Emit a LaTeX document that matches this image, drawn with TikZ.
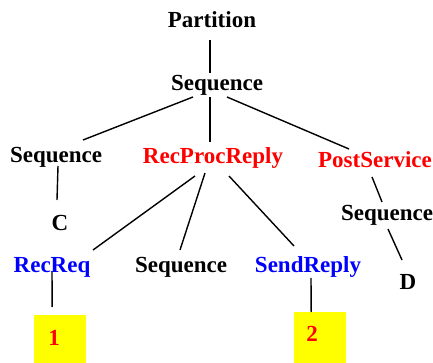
\documentclass[tikz,border=0pt]{standalone}
\usepackage{fontspec}
\setmainfont{Liberation Serif}
\definecolor{tred}{RGB}{255,0,0}
\definecolor{tblue}{RGB}{0,0,255}
\definecolor{tyellow}{RGB}{255,255,0}
\begin{document}
\begin{tikzpicture}[x=1pt,y=-1pt,
  lbl/.style={anchor=base,inner sep=0pt,font=\fontsize{23}{27}\selectfont\bfseries},
  redlbl/.style={lbl,text=tred},
  bluelbl/.style={lbl,text=tblue},
  leaf/.style={fill=tyellow,draw=none,minimum width=52pt,minimum height=51pt,inner sep=0pt,anchor=north west},
  edge/.style={line width=1.4pt}]
\useasboundingbox (0,0) rectangle (433,363);

% tree labels
\node[lbl] (part) at (212,28) {Partition};
\node[lbl] (stop) at (217,91) {Sequence};
\node[lbl] (sl) at (56,163) {Sequence};
\node[redlbl] (rpr) at (213,164) {RecProcReply};
\node[redlbl] (ps) at (375,168) {PostService};
\node[lbl] (c) at (60,230) {C};
\node[lbl] (sr) at (387,220) {Sequence};
\node[bluelbl] (rr) at (52,272) {RecReq};
\node[lbl] (sm) at (181,272) {Sequence};
\node[bluelbl] (snd) at (308,272) {SendReply};
\node[lbl] (d) at (408,289) {D};

% yellow leaves
\node[leaf] (b1) at (34,315) {};
\node[leaf] (b2) at (294,312) {};
\node[redlbl] (n1) at (54,345) {1};
\node[redlbl] (n2) at (312,341) {2};

% branches
\draw[edge] ([shift={(-2,12)}]part.base) -- ([shift={(-7,-18)}]stop.base);
\draw[edge] ([shift={(-24,6)}]stop.base) -- ([shift={(27,-23)}]sl.base);
\draw[edge] ([shift={(-7,6)}]stop.base) -- ([shift={(-3,-22)}]rpr.base);
\draw[edge] ([shift={(10,6)}]stop.base) -- ([shift={(-26,-19)}]ps.base);
\draw[edge] ([shift={(2,3)}]sl.base) -- ([shift={(-3,-30)}]c.base);
\draw[edge] ([shift={(-18,12)}]rpr.base) -- ([shift={(41,-22)}]rr.base);
\draw[edge] ([shift={(-8,9)}]rpr.base) -- ([shift={(-1,-22)}]sm.base);
\draw[edge] ([shift={(16,12)}]rpr.base) -- ([shift={(-14,-26)}]snd.base);
\draw[edge] ([shift={(-3,9)}]ps.base) -- ([shift={(-5,-18)}]sr.base);
\draw[edge] ([shift={(1,9)}]sr.base) -- ([shift={(-6,-29)}]d.base);
\draw[edge] ([shift={(0,0)}]rr.base) -- ([shift={(-8,-8)}]b1.north);
\draw[edge] ([shift={(3,6)}]snd.base) -- ([shift={(-9,0)}]b2.north);
\end{tikzpicture}
\end{document}
